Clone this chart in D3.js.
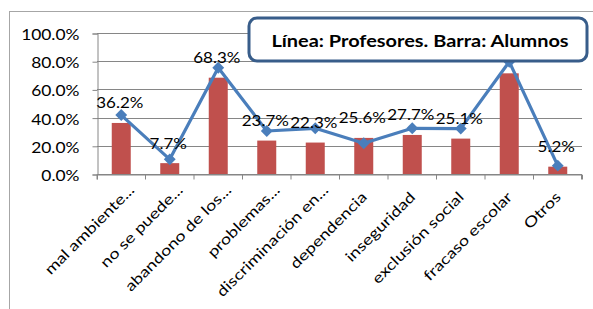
<!DOCTYPE html>
<html>
  <head>
    <meta charset="utf-8">
    <title>Profesores y Alumnos</title>
    <script src="https://d3js.org/d3.v7.min.js"></script>
    <style>
      body { margin: 0; background: #fff; }
      text { font-family: Lato, "Open Sans", sans-serif; fill: #000; }
    </style>
  </head>
  <body>
    <script type="text/javascript">
      var categories = ['mal ambiente...', 'no se puede...', 'abandono de los...', 'problemas...',
                        'discriminación en...', 'dependencia', 'inseguridad', 'exclusión social',
                        'fracaso escolar', 'Otros'];
      // barras: alumnos
      var alumnos = [36.2, 7.7, 68.3, 23.7, 22.3, 25.6, 27.7, 25.1, 71.4, 5.2];
      // línea: profesores
      var profesores = [41.8, 10.4, 75.4, 30.5, 32.4, 21.8, 32.4, 32.2, 79.6, 5.9];
      var yTicks = [0, 20, 40, 60, 80, 100];
      var title = 'Línea: Profesores. Barra: Alumnos';

      var sx = 1.2; // texto algo ensanchado como en el original
      var box = { x: 249, y: 18, w: 338, h: 43 };

      var svg = d3.select('body')
                  .append('svg')
                  .attr('width', 593)
                  .attr('height', 309);

      // borde del gráfico
      svg.append('rect')
         .attr('x', 9.5).attr('y', 11.5)
         .attr('width', 600).attr('height', 320)
         .attr('fill', 'none')
         .attr('stroke', '#a6a6a6');

      var x = d3.scaleBand()
                .domain(categories)
                .range([97, 582]);
      var y = d3.scaleLinear()
                .domain([0, 100])
                .range([174, 33]);
      var cx = function(d) { return x(d) + x.bandwidth() / 2; };

      // rejilla
      svg.append('g')
         .selectAll('line')
         .data(yTicks)
         .enter()
           .append('line')
           .attr('x1', 97).attr('x2', 582)
           .attr('y1', function(d) { return Math.round(y(d)) + 0.5; })
           .attr('y2', function(d) { return Math.round(y(d)) + 0.5; })
           .attr('stroke', '#868686');

      // eje Y
      var yAxis = d3.axisLeft(y)
                    .tickValues(yTicks)
                    .tickSize(5)
                    .tickFormat(function(d) { return d.toFixed(1) + '%'; });
      var gy = svg.append('g')
                  .attr('transform', 'translate(97.5,0.5)')
                  .call(yAxis);
      gy.selectAll('path, line').attr('stroke', '#868686');
      gy.selectAll('text')
        .attr('font-size', 14.5)
        .attr('font-family', 'Lato')
        .attr('x', -18 / sx)
        .attr('dy', '0.42em')
        .attr('transform', 'scale(' + sx + ',1)');

      // barras
      svg.append('g')
         .selectAll('rect')
         .data(alumnos)
         .enter()
           .append('rect')
           .attr('x', function(d, i) { return cx(categories[i]) - 9.5; })
           .attr('width', 19)
           .attr('y', function(d) { return y(d); })
           .attr('height', function(d) { return y(0) - y(d); })
           .attr('fill', '#c0504d');

      // eje X
      var xAxis = d3.axisBottom(x)
                    .tickSize(5)
                    .tickFormat('');
      var gx = svg.append('g')
                  .attr('transform', 'translate(0,174.5)')
                  .call(xAxis);
      gx.selectAll('path, line').attr('stroke', '#868686');
      gx.selectAll('.tick line')
        .attr('transform', 'translate(' + (-x.bandwidth() / 2) + ',0)');
      gx.append('line')
        .attr('x1', 581.5).attr('x2', 581.5).attr('y1', 0).attr('y2', 5)
        .attr('stroke', '#868686');

      svg.append('g')
         .selectAll('text')
         .data(categories)
         .enter()
           .append('text')
           .attr('text-anchor', 'end')
           .attr('font-size', 14.5)
           .attr('transform', function(d) {
             var cut = d.slice(-3) === '...';
             var ax = cx(d) + (cut ? 14 : 4);
             var ay = cut ? 191 : 198;
             return 'translate(' + ax + ',' + ay + ') rotate(-45) scale(1.25,1)';
           })
           .text(function(d) { return d; });

      // línea
      var line = d3.line()
                   .x(function(d, i) { return cx(categories[i]); })
                   .y(function(d) { return y(d); });
      svg.append('path')
         .datum(profesores)
         .attr('d', line)
         .attr('fill', 'none')
         .attr('stroke', '#4a7ebb')
         .attr('stroke-width', 3.2)
         .attr('stroke-linejoin', 'round');

      svg.append('g')
         .selectAll('path')
         .data(profesores)
         .enter()
           .append('path')
           .attr('d', d3.symbol().type(d3.symbolDiamond2).size(90))
           .attr('transform', function(d, i) {
             return 'translate(' + cx(categories[i]) + ',' + y(d) + ')';
           })
           .attr('fill', '#4a7ebb');

      // etiquetas de datos (alumnos); la que queda bajo el título no se ve
      var labels = alumnos.map(function(d, i) { return { v: d, c: categories[i] }; })
                          .filter(function(d) {
                            var lx = cx(d.c), ly = y(d.v) - 14.5;
                            return !(lx > box.x && lx < box.x + box.w && ly < box.y + box.h + 4);
                          });
      svg.append('g')
         .selectAll('text')
         .data(labels)
         .enter()
           .append('text')
           .attr('text-anchor', 'middle')
           .attr('font-size', 14.5)
           .attr('transform', function(d) {
             return 'translate(' + (cx(d.c) - 1.5) + ',' + (y(d.v) - 14.5) + ') scale(1.17,1)';
           })
           .text(function(d) { return d.v.toFixed(1) + '%'; });

      // título
      svg.append('rect')
         .attr('x', box.x).attr('y', box.y)
         .attr('width', box.w).attr('height', box.h)
         .attr('rx', 8).attr('ry', 8)
         .attr('fill', '#fff')
         .attr('stroke', '#385d8a')
         .attr('stroke-width', 3);
      svg.append('text')
         .attr('text-anchor', 'middle')
         .attr('font-size', 17.5)
         .attr('font-weight', 'bold')
         .attr('transform', 'translate(420,46.5) scale(1.14,1)')
         .text(title);
    </script>
  </body>
</html>
